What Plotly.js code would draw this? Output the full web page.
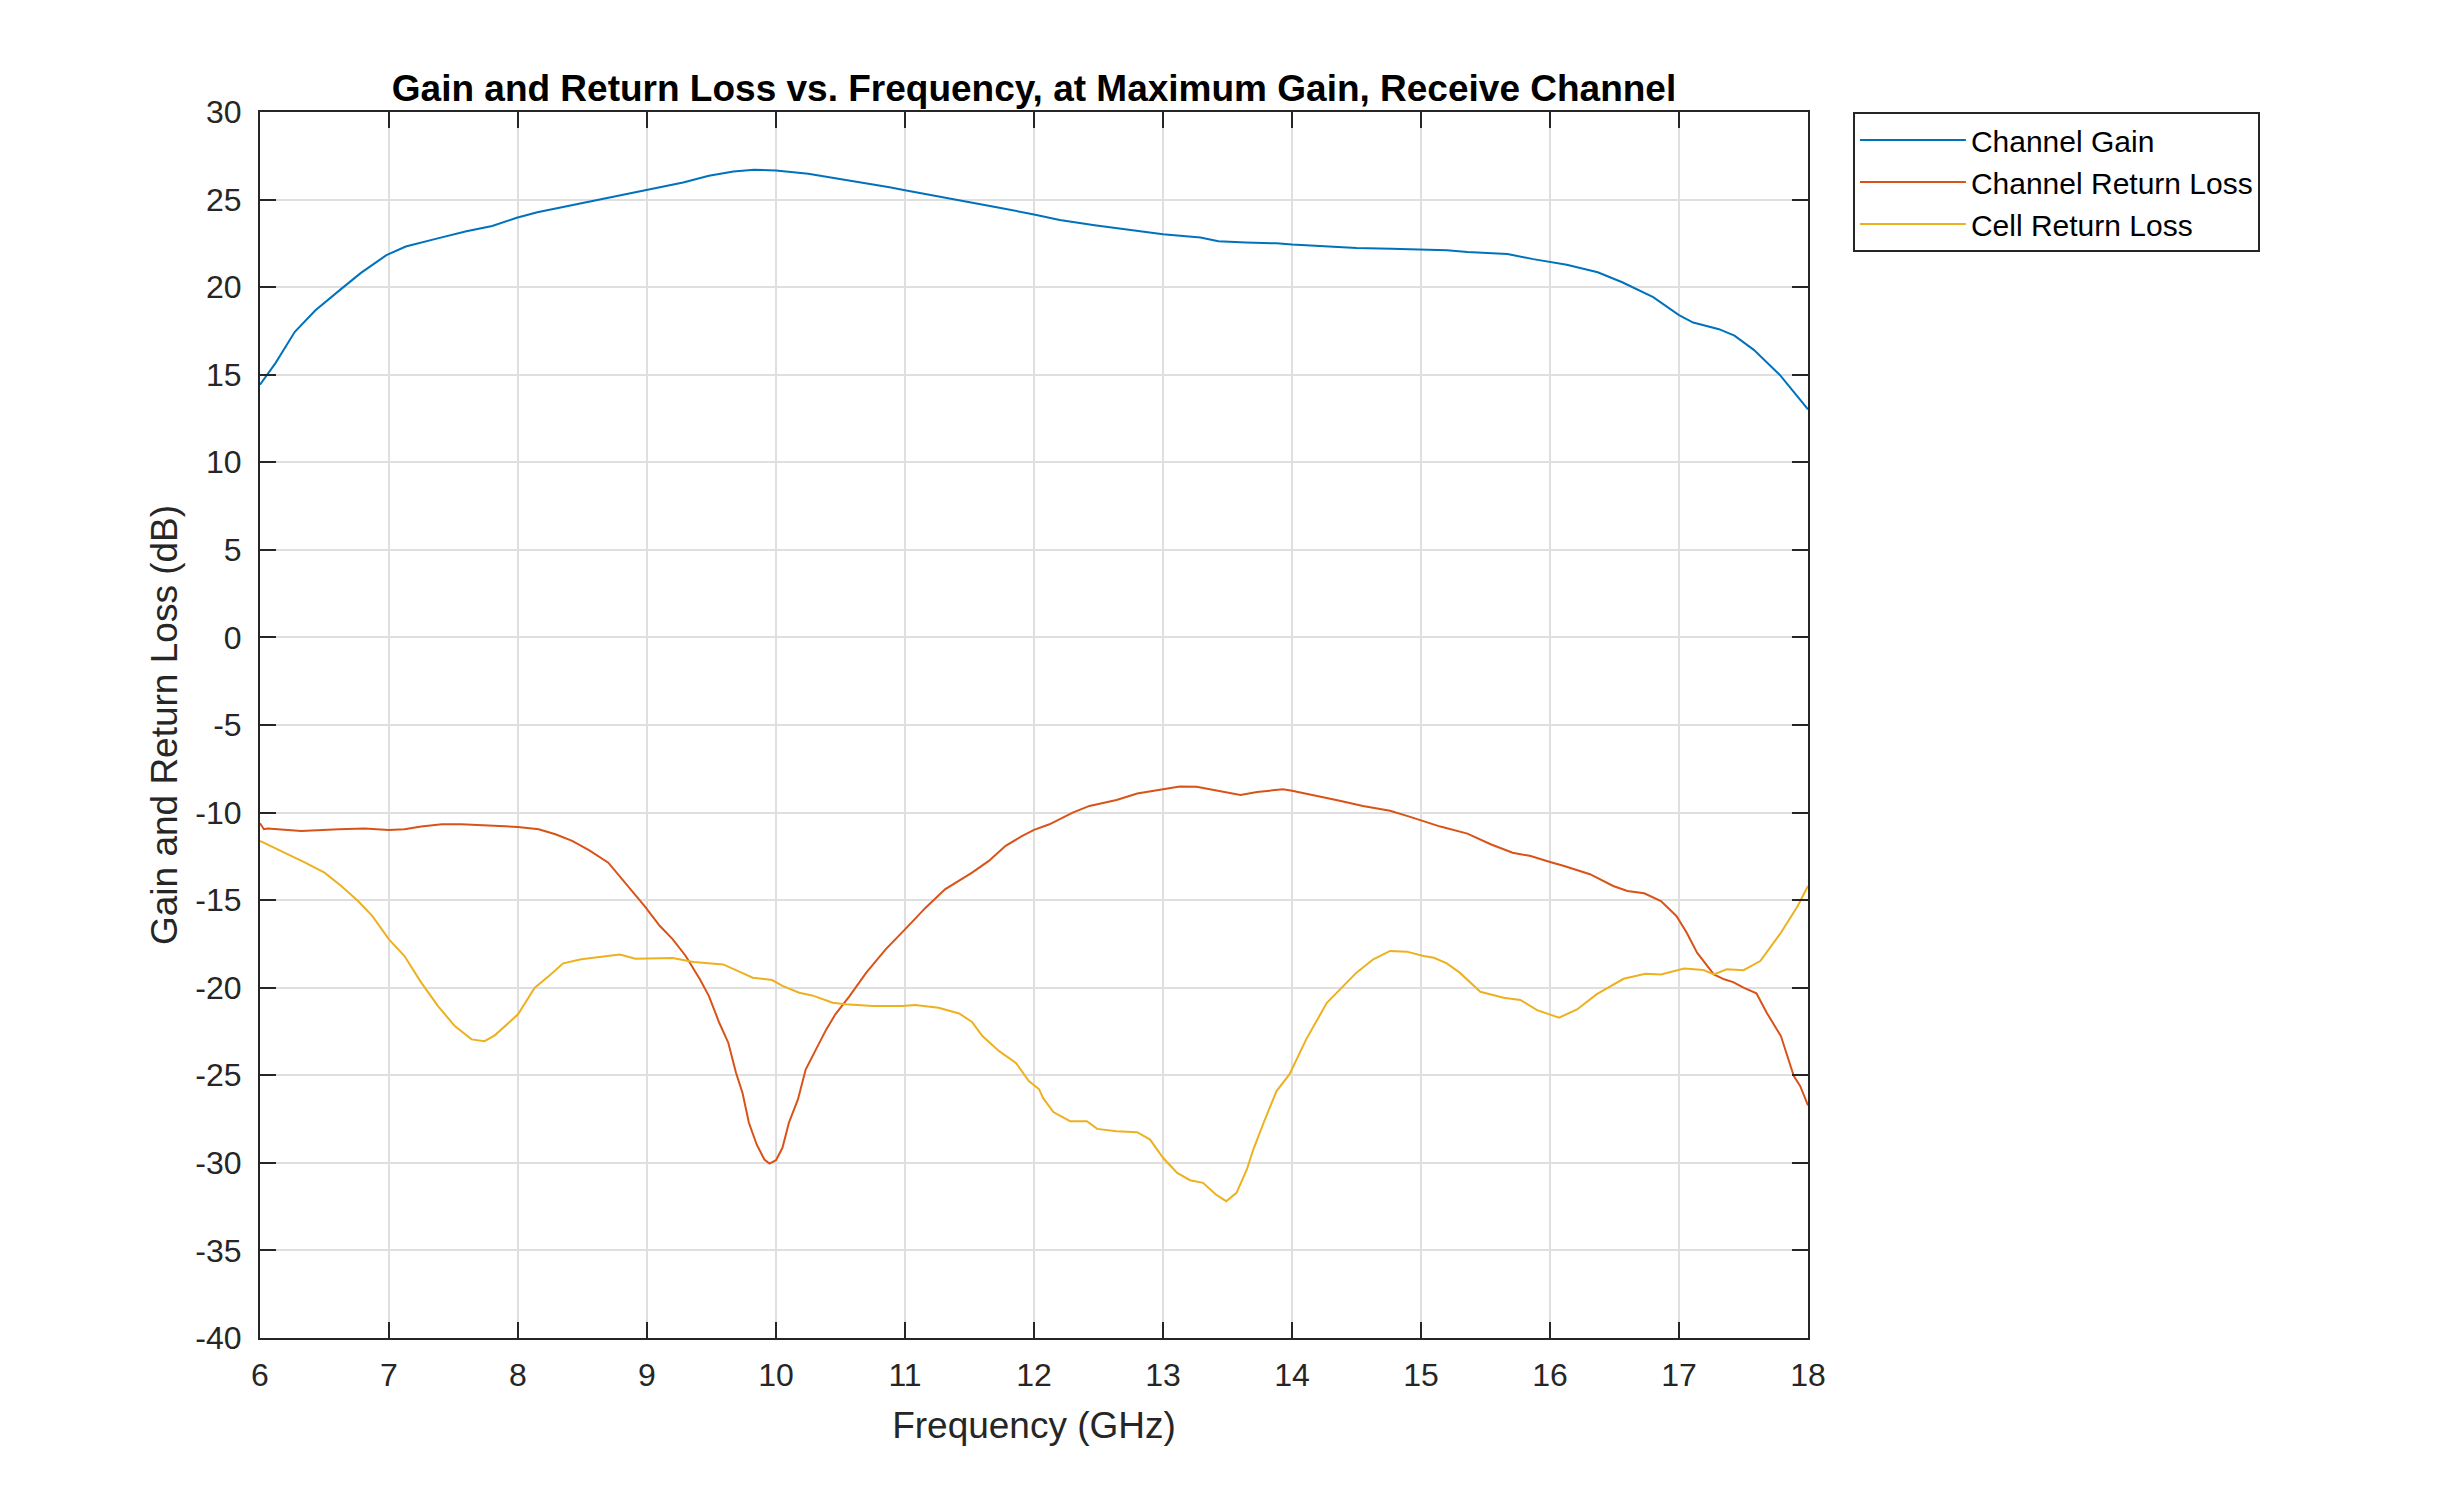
<!DOCTYPE html>
<html>
<head>
<meta charset="utf-8">
<script src="https://cdn.plot.ly/plotly-3.0.1.min.js"></script>
<style>
  html, body { margin: 0; padding: 0; background: #fff; }
</style>
</head>
<body>
<div id="chart"></div>
<script>
// values (GHz, dB)
const gainFreq = [6.0, 6.12, 6.27, 6.43, 6.63, 6.78, 6.98, 7.13, 7.37, 7.6, 7.8, 7.99, 8.15, 8.38, 8.7,
    9.01, 9.28, 9.48, 9.67, 9.83, 10.0, 10.25, 10.49, 10.64, 10.88, 11.0, 11.16, 11.43, 11.7, 12.0,
    12.2, 12.47, 12.74, 13.0, 13.29, 13.43, 13.64, 13.88, 14.0, 14.23, 14.5, 14.77, 15.0, 15.2, 15.36,
    15.67, 15.87, 16.0, 16.13, 16.37, 16.56, 16.8, 17.0, 17.11, 17.31, 17.43, 17.58, 17.78, 18.0];
const gainDb = [14.43, 15.66, 17.45, 18.68, 19.9, 20.8, 21.83, 22.32, 22.77, 23.19, 23.49, 23.96, 24.28, 24.62, 25.09,
    25.57, 25.98, 26.36, 26.6, 26.7, 26.66, 26.47, 26.19, 25.98, 25.7, 25.53, 25.32, 24.96, 24.58, 24.15,
    23.83, 23.53, 23.25, 23.02, 22.83, 22.62, 22.55, 22.5, 22.43, 22.32, 22.23, 22.19, 22.17, 22.11, 22.0,
    21.89, 21.6, 21.45, 21.28, 20.85, 20.28, 19.43, 18.4, 17.98, 17.6, 17.23, 16.42, 15.0, 13.02];

const chanRlFreq = [6.0, 6.03, 6.06, 6.32, 6.61, 6.81, 7.0, 7.12, 7.25, 7.41, 7.56, 7.77, 8.0, 8.16, 8.29,
    8.42, 8.55, 8.7, 8.83, 8.98, 9.1, 9.2, 9.3, 9.41, 9.48, 9.56, 9.63, 9.69, 9.74, 9.79,
    9.85, 9.91, 9.95, 10.0, 10.05, 10.1, 10.17, 10.23, 10.31, 10.39, 10.46, 10.57, 10.7, 10.85, 11.0,
    11.16, 11.31, 11.52, 11.65, 11.78, 11.91, 12.0, 12.12, 12.3, 12.43, 12.64, 12.8, 13.0, 13.13, 13.26,
    13.42, 13.6, 13.73, 13.93, 14.0, 14.17, 14.37, 14.55, 14.76, 14.91, 15.02, 15.15, 15.36, 15.54, 15.71,
    15.85, 16.0, 16.11, 16.31, 16.49, 16.6, 16.73, 16.86, 16.98, 17.06, 17.14, 17.27, 17.35, 17.42, 17.5,
    17.6, 17.68, 17.79, 17.89, 17.94, 18.0];
const chanRlDb = [-10.61, -10.95, -10.91, -11.05, -10.95, -10.91, -10.99, -10.95, -10.8, -10.67, -10.67, -10.74, -10.82, -10.95, -11.24,
    -11.62, -12.15, -12.86, -14.0, -15.33, -16.48, -17.24, -18.19, -19.52, -20.48, -22.0, -23.14, -24.86, -26.0, -27.71,
    -28.95, -29.81, -30.04, -29.85, -29.14, -27.71, -26.38, -24.67, -23.52, -22.38, -21.52, -20.48, -19.14, -17.81, -16.67,
    -15.43, -14.38, -13.43, -12.76, -11.9, -11.33, -10.99, -10.67, -10.0, -9.62, -9.28, -8.91, -8.67, -8.51, -8.53,
    -8.76, -8.99, -8.82, -8.67, -8.76, -9.01, -9.33, -9.62, -9.9, -10.23, -10.48, -10.8, -11.2, -11.81, -12.29,
    -12.48, -12.82, -13.05, -13.52, -14.19, -14.48, -14.61, -15.05, -15.9, -16.86, -18.0, -19.24, -19.52, -19.68, -20.0,
    -20.32, -21.43, -22.76, -25.05, -25.62, -26.72];

const cellRlFreq = [6.0, 6.14, 6.35, 6.5, 6.63, 6.76, 6.87, 7.0, 7.12, 7.25, 7.38, 7.51, 7.64, 7.74, 7.82,
    8.0, 8.13, 8.24, 8.35, 8.49, 8.67, 8.79, 8.91, 9.06, 9.2, 9.36, 9.59, 9.72, 9.82, 9.97,
    10.05, 10.18, 10.28, 10.44, 10.54, 10.75, 10.98, 11.08, 11.26, 11.42, 11.52, 11.6, 11.73, 11.86, 11.96,
    12.04, 12.07, 12.15, 12.28, 12.41, 12.49, 12.64, 12.8, 12.9, 13.0, 13.11, 13.21, 13.31, 13.41, 13.49,
    13.57, 13.65, 13.7, 13.78, 13.88, 13.98, 14.11, 14.27, 14.4, 14.5, 14.63, 14.76, 14.89, 15.02, 15.1,
    15.2, 15.3, 15.46, 15.64, 15.77, 15.9, 16.07, 16.21, 16.36, 16.57, 16.74, 16.86, 17.04, 17.19, 17.27,
    17.37, 17.5, 17.63, 17.79, 17.92, 18.0];
const cellRlDb = [-11.62, -12.1, -12.86, -13.43, -14.19, -15.05, -15.9, -17.24, -18.19, -19.71, -21.05, -22.19, -22.95, -23.05, -22.72,
    -21.52, -20.0, -19.33, -18.61, -18.38, -18.23, -18.1, -18.34, -18.32, -18.3, -18.53, -18.67, -19.1, -19.43, -19.56,
    -19.9, -20.29, -20.44, -20.86, -20.95, -21.05, -21.05, -20.99, -21.14, -21.47, -21.96, -22.76, -23.62, -24.29, -25.33,
    -25.8, -26.29, -27.1, -27.62, -27.62, -28.06, -28.19, -28.25, -28.67, -29.71, -30.57, -30.99, -31.14, -31.81, -32.19,
    -31.71, -30.38, -29.24, -27.71, -25.9, -24.95, -22.95, -20.86, -19.9, -19.14, -18.38, -17.9, -17.94, -18.19, -18.29,
    -18.61, -19.14, -20.23, -20.57, -20.7, -21.28, -21.71, -21.24, -20.38, -19.49, -19.2, -19.24, -18.91, -18.99, -19.24,
    -18.95, -19.0, -18.48, -16.86, -15.33, -14.19];

// tick labels, plain hyphen for the minus sign
const xTickVals = [6, 7, 8, 9, 10, 11, 12, 13, 14, 15, 16, 17, 18];
const xTickText = ['6', '7', '8', '9', '10', '11', '12', '13', '14', '15', '16', '17', '18'];
const yTickVals = [-40, -35, -30, -25, -20, -15, -10, -5, 0, 5, 10, 15, 20, 25, 30];
const yTickText = ['-40', '-35', '-30', '-25', '-20', '-15', '-10', '-5', '0', '5', '10', '15', '20', '25', '30'];

const font = 'Liberation Sans, Arial, sans-serif';
const ink = '#262626';

const gainTrace = {
    x: gainFreq,
    y: gainDb,
    mode: 'lines',
    name: 'Channel Gain',
    line: {color: '#0072BD', width: 2},
};

const chanRlTrace = {
    x: chanRlFreq,
    y: chanRlDb,
    mode: 'lines',
    name: 'Channel Return Loss',
    line: {color: '#D95319', width: 2},
};

const cellRlTrace = {
    x: cellRlFreq,
    y: cellRlDb,
    mode: 'lines',
    name: 'Cell Return Loss',
    line: {color: '#EDB120', width: 2},
};

const axisBase = {
    showline: true,
    linecolor: ink,
    linewidth: 2,
    mirror: 'ticks',
    ticks: 'inside',
    ticklen: 16,
    tickwidth: 2,
    tickcolor: ink,
    showgrid: true,
    gridcolor: '#dfdfdf',
    gridwidth: 2,
    zeroline: false,
    tickmode: 'array',
    tickfont: {family: font, size: 32, color: ink},
};

const layout = {
    width: 2455,
    height: 1504,
    margin: {l: 260, r: 647, t: 112, b: 166},
    paper_bgcolor: '#fff',
    plot_bgcolor: '#fff',
    font: {family: font, color: ink},
    title: {
        text: 'Gain and Return Loss vs. Frequency, at Maximum Gain, Receive Channel',
        font: {family: font, size: 37, color: '#000', weight: 'bold'},
        x: 0.5, xref: 'paper', xanchor: 'center',
        y: 1 - 88 / 1504, yref: 'container', yanchor: 'middle',
    },
    xaxis: Object.assign({}, axisBase, {
        range: [6, 18],
        tickvals: xTickVals,
        ticktext: xTickText,
        ticklabelstandoff: 8,
        title: {text: 'Frequency (GHz)', font: {family: font, size: 37, color: ink}, standoff: 20},
    }),
    yaxis: Object.assign({}, axisBase, {
        range: [-40, 30],
        tickvals: yTickVals,
        ticktext: yTickText,
        ticklabelstandoff: 10,
        title: {text: 'Gain and Return Loss (dB)', font: {family: font, size: 37, color: ink}, standoff: 6},
    }),
    showlegend: true,
    legend: {
        x: 1.029, y: 1, xanchor: 'left', yanchor: 'top',
        bordercolor: ink, borderwidth: 2, bgcolor: '#fff',
        font: {family: font, size: 30, color: '#000'},
        itemwidth: 106,
    },
};

Plotly.newPlot('chart', [gainTrace, chanRlTrace, cellRlTrace], layout, {displayModeBar: false, staticPlot: true});
</script>
</body>
</html>
